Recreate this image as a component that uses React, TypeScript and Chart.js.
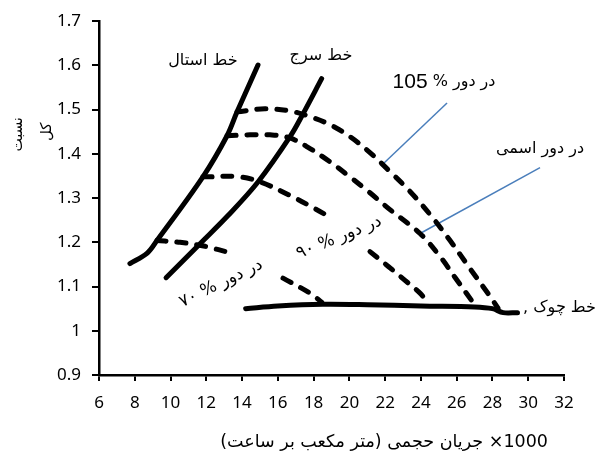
import React, { useEffect, useRef } from "react";
import { Chart, registerables } from "chart.js";

Chart.register(...registerables);

// ---- data ----
const xTickValues = [6, 8, 10, 12, 14, 16, 18, 20, 22, 24, 26, 28, 30, 32];
const yTickLabels = ["0.9", "1", "1.1", "1.2", "1.3", "1.4", "1.5", "1.6", "1.7"];

const stallX = [7.73, 8.68, 9.24, 11.81, 13.16, 13.72, 14.89];
const stallY = [1.152, 1.175, 1.204, 1.348, 1.441, 1.495, 1.601];

const surgeX = [9.75, 11.65, 13.2, 14.9, 16.7, 17.4, 18.45];
const surgeY = [1.12, 1.197, 1.26, 1.337, 1.44, 1.49, 1.57];

const speed105X = [13.72, 15.28, 16.68, 17.8, 18.92, 20.03, 21.15, 22.27, 23.39, 24.51, 25.63, 26.74, 27.86, 28.31];
const speed105Y = [1.495, 1.502, 1.497, 1.484, 1.466, 1.439, 1.403, 1.36, 1.315, 1.263, 1.204, 1.141, 1.078, 1.051];

const nominalX = [13.16, 14.44, 15.56, 16.68, 17.8, 18.92, 20.03, 21.15, 22.27, 23.95, 25.07, 25.9, 26.86];
const nominalY = [1.441, 1.443, 1.443, 1.436, 1.412, 1.382, 1.348, 1.312, 1.274, 1.22, 1.168, 1.121, 1.067];

// null marks the gap under the rotated label
const speed90X = [11.81, 13.88, 15.11, 16.68, 18.08, 19.03, 20.1, 21.15, 22.16, 23.11, 23.95, 24.34];
const speed90Y = [1.348, 1.348, 1.335, 1.306, 1.276, 1.254, null, 1.179, 1.146, 1.114, 1.085, 1.067];

const speed70X = [9.24, 10.53, 11.93, 13.44, 14.9, 16.29, 17.8, 18.47];
const speed70Y = [1.204, 1.2, 1.191, 1.175, null, 1.119, 1.085, 1.064];

const chokeX = [14.2, 16, 18.5, 21, 24, 27, 28, 28.6, 29.4];
const chokeY = [1.05, 1.056, 1.06, 1.059, 1.056, 1.054, 1.05, 1.041, 1.041];

const leader105X = [21.82, 25.46];
const leader105Y = [1.375, 1.515];
const leaderNominalX = [23.95, 30.66];
const leaderNominalY = [1.22, 1.369];

const xTitle = "1000× جریان حجمی (متر مکعب بر ساعت)";
const yTitleLines = ["نسبت", "کل"];
const stallLabel = "خط استال";
const surgeLabel = "خط سرج";
const chokeLabel = "خط چوک";
const nominalLabel = "در دور اسمی";
const speedWord = "در دور";
const label105Value = "105";
const label90Value = "۹۰";
const label70Value = "۷۰";

// ---- styling / placement (data coordinates for anchors) ----
const ARABIC = "'DejaVu Sans', sans-serif";
const LATIN = "'Noto Sans', 'DejaVu Sans', sans-serif";

const toPts = (xs: number[], ys: (number | null)[]) => xs.map((x, i) => ({ x, y: ys[i] }));

const lineDs = (xs: number[], ys: (number | null)[], dashed: boolean) => ({
  data: toPts(xs, ys),
  showLine: true,
  borderColor: "#000",
  backgroundColor: "#000",
  borderWidth: 5,
  pointRadius: 0,
  pointHoverRadius: 0,
  tension: 0.35,
  borderCapStyle: "round",
  borderJoinStyle: "round",
  borderDash: dashed ? [9, 11] : [],
  spanGaps: false,
  fill: false,
});

const leaderDs = (xs: number[], ys: number[]) => ({
  data: toPts(xs, ys),
  showLine: true,
  borderColor: "#4a7ebb",
  borderWidth: 1.5,
  pointRadius: 0,
  pointHoverRadius: 0,
  tension: 0,
  fill: false,
});

type Piece = { text: string; font: string };

function drawPieces(ctx: CanvasRenderingContext2D, pieces: Piece[], cx: number, cy: number, angleDeg: number) {
  ctx.save();
  ctx.translate(cx, cy);
  ctx.rotate((angleDeg * Math.PI) / 180);
  ctx.direction = "ltr";
  ctx.textAlign = "left";
  ctx.textBaseline = "middle";
  ctx.fillStyle = "#000";
  const widths = pieces.map((p) => {
    ctx.font = p.font;
    return ctx.measureText(p.text).width;
  });
  const total = widths.reduce((a, b) => a + b, 0);
  let x = -total / 2;
  pieces.forEach((p, i) => {
    ctx.font = p.font;
    ctx.fillText(p.text, x, 0);
    x += widths[i];
  });
  ctx.restore();
}

const textPlugin = {
  id: "textLabels",
  afterDatasetsDraw(chart: any) {
    const ctx: CanvasRenderingContext2D = chart.ctx;
    const sx = chart.scales.x;
    const sy = chart.scales.y;
    const px = (v: number) => sx.getPixelForValue(v);
    const py = (v: number) => sy.getPixelForValue(v);
    const f16 = `16px ${ARABIC}`;
    const f17 = `17px ${ARABIC}`;

    drawPieces(ctx, [{ text: stallLabel, font: f16 }], px(11.81), py(1.61), 0);
    drawPieces(ctx, [{ text: surgeLabel, font: f16 }], px(18.41), py(1.621), 0);
    drawPieces(
      ctx,
      [
        { text: label105Value, font: `21px 'Liberation Sans Narrow', 'Liberation Sans', sans-serif` },
        { text: " % ", font: f16 },
        { text: speedWord, font: f16 },
      ],
      px(25.29),
      py(1.563),
      0
    );
    drawPieces(ctx, [{ text: nominalLabel, font: f16 }], px(30.66), py(1.412), 0);
    drawPieces(ctx, [{ text: ",", font: f16 }, { text: " " + chokeLabel, font: f16 }], px(31.75), py(1.051), 0);
    drawPieces(
      ctx,
      [
        { text: label70Value, font: f17 },
        { text: " % ", font: f17 },
        { text: speedWord, font: f17 },
      ],
      px(12.82),
      py(1.107),
      -26
    );
    drawPieces(
      ctx,
      [
        { text: label90Value, font: f17 },
        { text: " % ", font: f17 },
        { text: speedWord, font: f17 },
      ],
      px(19.42),
      py(1.211),
      -22
    );

    // axis titles
    const area = chart.chartArea;
    ctx.save();
    ctx.fillStyle = "#000";
    ctx.font = `17.5px ${ARABIC}`;
    ctx.direction = "rtl";
    ctx.textAlign = "center";
    ctx.textBaseline = "middle";
    ctx.fillText(xTitle, px(21.94), area.bottom + 67);
    ctx.restore();

    drawPieces(ctx, [{ text: yTitleLines[0], font: `14px ${ARABIC}` }], area.left - 81, py(1.444), -90);
    drawPieces(ctx, [{ text: yTitleLines[1], font: `15px ${ARABIC}` }], area.left - 52, py(1.45), -90);
  },
};

export default function App() {
  const ref = useRef<HTMLCanvasElement | null>(null);

  useEffect(() => {
    document.body.style.margin = "0";
    const canvas = ref.current;
    if (!canvas) return;
    const chart = new Chart(canvas, {
      type: "scatter",
      data: {
        datasets: [
          lineDs(stallX, stallY, false),
          lineDs(surgeX, surgeY, false),
          lineDs(chokeX, chokeY, false),
          lineDs(speed105X, speed105Y, true),
          lineDs(nominalX, nominalY, true),
          lineDs(speed90X, speed90Y, true),
          lineDs(speed70X, speed70Y, true),
          leaderDs(leader105X, leader105Y),
          leaderDs(leaderNominalX, leaderNominalY),
        ] as any,
      },
      options: {
        animation: false,
        responsive: false,
        devicePixelRatio: 1,
        events: [],
        layout: { padding: { left: 0, right: 43, top: 20, bottom: 0 } },
        plugins: { legend: { display: false }, tooltip: { enabled: false }, title: { display: false } },
        scales: {
          x: {
            type: "linear",
            min: 6,
            max: 32,
            afterFit: (s: any) => {
              s.height = 80;
            },
            afterBuildTicks: (s: any) => {
              s.ticks = xTickValues.map((v) => ({ value: v }));
            },
            ticks: {
              color: "#000",
              font: { family: LATIN, size: 17 },
              padding: 12,
              maxRotation: 0,
              autoSkip: false,
              callback: (v: any) => String(v),
            },
            grid: { display: true, drawOnChartArea: false, drawTicks: true, tickLength: 6, color: "#000", lineWidth: 2 },
            border: { display: true, color: "#000", width: 2.5 },
          },
          y: {
            type: "linear",
            min: 0.9,
            max: 1.7,
            afterFit: (s: any) => {
              s.width = 99;
            },
            afterBuildTicks: (s: any) => {
              s.ticks = yTickLabels.map((_, i) => ({ value: 0.9 + i * 0.1 }));
            },
            ticks: {
              color: "#000",
              font: { family: LATIN, size: 17 },
              padding: 11,
              autoSkip: false,
              callback: (_v: any, i: number) => yTickLabels[i],
            },
            grid: { display: true, drawOnChartArea: false, drawTicks: true, tickLength: 7, color: "#000", lineWidth: 2 },
            border: { display: true, color: "#000", width: 2.5 },
          },
        },
      } as any,
      plugins: [textPlugin],
    });
    return () => chart.destroy();
  }, []);

  return (
    <div style={{ position: "absolute", left: 0, top: 0, width: 607, height: 455, background: "#fff" }}>
      <canvas ref={ref} width={607} height={455} style={{ width: 607, height: 455, display: "block" }} />
    </div>
  );
}
